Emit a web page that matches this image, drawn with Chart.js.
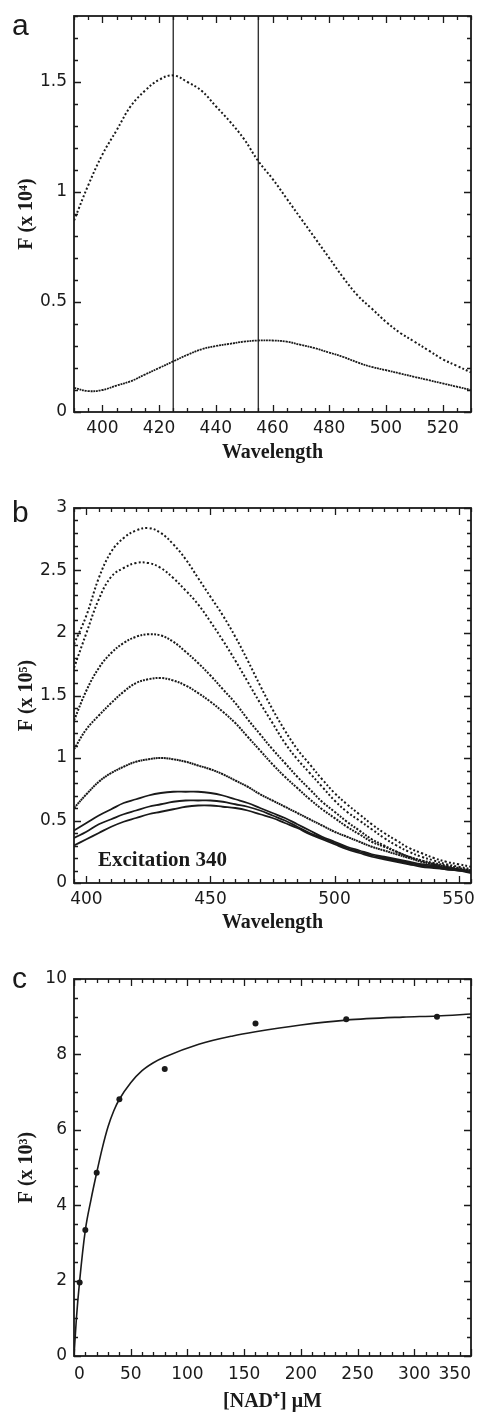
<!DOCTYPE html>
<html>
<head>
<meta charset="utf-8">
<script src="https://cdn.jsdelivr.net/npm/chart.js@4.4.0/dist/chart.umd.min.js"></script>
<style>
  body { margin: 0; background: #fff; width: 478px; height: 1412px; position: relative; overflow: hidden; }
  canvas { position: absolute; left: 0; }
  .lbl { position: absolute; line-height: 1; color: #1a1a1a; white-space: nowrap; }
  .panel { font-family: 'Liberation Sans', Arial, sans-serif; font-size: 30px; }
  .note { font-family: 'Liberation Serif', serif; font-weight: bold; font-size: 21px; }
</style>
</head>
<body>
<canvas id="chartA" width="478" height="470" style="top:0px"></canvas>
<canvas id="chartB" width="478" height="470" style="top:470px"></canvas>
<canvas id="chartC" width="478" height="472" style="top:940px"></canvas>
<div class="lbl panel" style="left:12px; top:10px;">a</div>
<div class="lbl panel" style="left:12px; top:497px;">b</div>
<div class="lbl panel" style="left:12px; top:963px;">c</div>
<div class="lbl note" style="left:98px; top:849px;">Excitation 340</div>

<script>
// ---- panel a: emission spectra (F x 10^4) ----
const wlA = [390, 395, 400, 405, 410, 415, 420, 425, 430, 435, 440, 445, 450, 455, 460,
             465, 470, 475, 480, 485, 490, 495, 500, 505, 510, 515, 520, 525, 530];
const fA_high = [0.87, 1.03, 1.17, 1.28, 1.39, 1.46, 1.51, 1.53, 1.50, 1.46, 1.39, 1.32, 1.24, 1.14, 1.06,
                 0.97, 0.88, 0.79, 0.70, 0.61, 0.53, 0.47, 0.41, 0.36, 0.32, 0.28, 0.24, 0.21, 0.18];
const fA_low = [0.11, 0.095, 0.10, 0.12, 0.14, 0.17, 0.20, 0.23, 0.26, 0.285, 0.30, 0.31, 0.32, 0.325, 0.325,
                0.32, 0.305, 0.29, 0.27, 0.25, 0.225, 0.205, 0.19, 0.175, 0.16, 0.145, 0.13, 0.115, 0.10];
const markerWl = [425, 455];
const xTicksA = [400, 420, 440, 460, 480, 500, 520];
const yTicksA = [0, 0.5, 1, 1.5];

// ---- panel b: titration spectra (F x 10^5) ----
const wlB = [395, 400, 405, 410, 415, 420, 425, 430, 435, 440, 445, 450, 455, 460, 465, 470, 475,
             480, 485, 490, 495, 500, 505, 510, 515, 520, 525, 530, 535, 540, 545, 550, 555];
const fB1 = [1.91, 2.14, 2.44, 2.65, 2.76, 2.82, 2.84, 2.80, 2.71, 2.59, 2.44, 2.29, 2.14, 1.97, 1.78, 1.58, 1.39,
             1.22, 1.07, 0.95, 0.83, 0.72, 0.63, 0.55, 0.47, 0.40, 0.34, 0.28, 0.24, 0.20, 0.17, 0.15, 0.13];
const fB2 = [1.72, 2.00, 2.27, 2.45, 2.52, 2.56, 2.56, 2.52, 2.44, 2.34, 2.23, 2.09, 1.94, 1.78, 1.61, 1.44, 1.28,
             1.12, 0.99, 0.88, 0.77, 0.66, 0.57, 0.50, 0.43, 0.36, 0.30, 0.25, 0.21, 0.18, 0.15, 0.13, 0.11];
const fB3 = [1.30, 1.54, 1.72, 1.84, 1.92, 1.97, 1.99, 1.98, 1.93, 1.85, 1.76, 1.66, 1.55, 1.44, 1.31, 1.19, 1.07,
             0.96, 0.85, 0.75, 0.65, 0.57, 0.49, 0.42, 0.35, 0.30, 0.25, 0.21, 0.18, 0.16, 0.14, 0.12, 0.10];
const fB4 = [1.07, 1.23, 1.34, 1.44, 1.53, 1.60, 1.63, 1.64, 1.62, 1.58, 1.52, 1.45, 1.37, 1.28, 1.17, 1.06, 0.95,
             0.85, 0.76, 0.67, 0.59, 0.52, 0.45, 0.39, 0.33, 0.29, 0.25, 0.21, 0.18, 0.15, 0.13, 0.11, 0.10];
const fB5 = [0.60, 0.71, 0.81, 0.88, 0.93, 0.97, 0.99, 1.00, 0.99, 0.97, 0.94, 0.91, 0.87, 0.82, 0.77, 0.71, 0.66,
             0.61, 0.56, 0.51, 0.46, 0.41, 0.37, 0.33, 0.29, 0.26, 0.23, 0.20, 0.17, 0.15, 0.13, 0.11, 0.10];
const fB6 = [0.42, 0.48, 0.54, 0.59, 0.64, 0.67, 0.70, 0.72, 0.73, 0.73, 0.73, 0.72, 0.70, 0.67, 0.64, 0.60, 0.56,
             0.52, 0.47, 0.42, 0.37, 0.33, 0.29, 0.26, 0.23, 0.21, 0.19, 0.17, 0.15, 0.14, 0.12, 0.11, 0.09];
const fB7 = [0.36, 0.41, 0.47, 0.51, 0.55, 0.58, 0.61, 0.63, 0.65, 0.66, 0.66, 0.66, 0.65, 0.63, 0.61, 0.58, 0.54,
             0.50, 0.45, 0.40, 0.36, 0.32, 0.28, 0.25, 0.22, 0.20, 0.18, 0.16, 0.14, 0.13, 0.11, 0.10, 0.09];
const fB8 = [0.30, 0.35, 0.40, 0.45, 0.49, 0.52, 0.55, 0.57, 0.59, 0.61, 0.62, 0.62, 0.61, 0.60, 0.58, 0.55, 0.52,
             0.48, 0.44, 0.39, 0.35, 0.31, 0.27, 0.24, 0.21, 0.19, 0.17, 0.15, 0.13, 0.12, 0.11, 0.10, 0.08];
const xTicksB = [400, 450, 500, 550];
const yTicksB = [0, 0.5, 1, 1.5, 2, 2.5, 3];

// ---- panel c: binding curve (F x 10^3) ----
const nadConc = [5, 10, 20, 40, 80, 160, 240, 320];
const fC = [1.95, 3.34, 4.86, 6.81, 7.61, 8.82, 8.93, 9.00];
const fitX = [0, 2, 5, 10, 15, 20, 25, 30, 35, 40, 50, 60, 70, 80, 110, 140, 160, 200, 240, 290, 320, 350];
const fitY = [0, 0.95, 2.0, 3.34, 4.15, 4.86, 5.52, 6.08, 6.5, 6.81, 7.25, 7.57, 7.78, 7.93, 8.27, 8.49, 8.6, 8.78, 8.91, 8.99, 9.02, 9.07];
const xTicksC = [0, 50, 100, 150, 200, 250, 300, 350];
const yTicksC = [0, 2, 4, 6, 8, 10];

const INK = '#1a1a1a';
const tickFont = { family: "'DejaVu Sans', sans-serif", size: 17 };
const titleFont = { family: "'Liberation Serif', serif", size: 20, weight: 'bold', lineHeight: 1 };

function pts(xs, ys) {
    return xs.map((x, i) => ({ x: x, y: ys[i] }));
}

// frame round the plot plus inward ticks on all four sides
const frameTicks = {
    id: 'frameTicks',
    afterDatasetsDraw(chart, args, opts) {
        const { ctx, chartArea: a, scales: { x, y } } = chart;
        ctx.save();
        ctx.strokeStyle = INK;
        ctx.lineWidth = 1.3;
        ctx.beginPath();
        function marks(scale, step, len, horiz) {
            const start = Math.ceil(scale.min / step - 1e-9);
            for (let i = start; i * step <= scale.max + 1e-9; i++) {
                const p = Math.round(scale.getPixelForValue(i * step)) + 0.5;
                if (horiz) {
                    ctx.moveTo(p, a.bottom); ctx.lineTo(p, a.bottom - len);
                    ctx.moveTo(p, a.top); ctx.lineTo(p, a.top + len);
                } else {
                    ctx.moveTo(a.left, p); ctx.lineTo(a.left + len, p);
                    ctx.moveTo(a.right, p); ctx.lineTo(a.right - len, p);
                }
            }
        }
        marks(x, opts.xMinor, 4, true);
        marks(x, opts.xMajor, 7, true);
        marks(y, opts.yMinor, 4, false);
        marks(y, opts.yMajor, 7, false);
        ctx.stroke();
        ctx.lineWidth = 1.8;
        ctx.strokeRect(a.left, a.top, a.width, a.height);
        ctx.restore();
    }
};

function makeChart(canvasId, cfg) {
    const ctx = document.getElementById(canvasId);
    return new Chart(ctx, {
        type: 'scatter',
        data: { datasets: cfg.datasets },
        options: {
            responsive: false,
            animation: false,
            events: [],
            layout: { padding: { top: cfg.plotTop, right: 7, left: 0, bottom: 0 } },
            plugins: {
                legend: { display: false },
                tooltip: { enabled: false },
                frameTicks: cfg.marks
            },
            scales: {
                x: {
                    type: 'linear',
                    min: cfg.xMin,
                    max: cfg.xMax,
                    grid: { display: false, drawTicks: false },
                    border: { display: false },
                    afterBuildTicks: s => { s.ticks = cfg.xTicks.map(v => ({ value: v })); },
                    afterFit: s => { s.height = cfg.xAxisH; s.paddingLeft = 0; s.paddingRight = 0; },
                    ticks: {
                        callback: v => String(v),
                        font: tickFont, color: INK, padding: cfg.xTickPad,
                        maxRotation: 0, autoSkip: false, align: cfg.xAlign || 'center'
                    },
                    title: { display: true, text: cfg.xTitle, font: titleFont, color: INK,
                             padding: { top: 0, bottom: cfg.xTitlePad } }
                },
                y: {
                    type: 'linear',
                    min: cfg.yMin,
                    max: cfg.yMax,
                    grid: { display: false, drawTicks: false },
                    border: { display: false },
                    afterBuildTicks: s => { s.ticks = cfg.yTicks.map(v => ({ value: v })); },
                    afterFit: s => { s.width = 74; s.paddingTop = 0; s.paddingBottom = 0; },
                    ticks: { callback: v => String(v), font: tickFont, color: INK, padding: 7, autoSkip: false },
                    title: { display: true, text: cfg.yTitle, font: titleFont, color: INK,
                             padding: { top: 17, bottom: 0 } }
                }
            }
        },
        plugins: [frameTicks]
    });
}

// smooth spectra use bezier tension, the fitted curve uses monotone
function trace(xs, ys, dash, width, monotone) {
    const ds = {
        data: pts(xs, ys),
        showLine: true,
        pointRadius: 0,
        borderColor: INK,
        borderWidth: width,
        borderDash: dash
    };
    if (monotone) ds.cubicInterpolationMode = 'monotone';
    else ds.tension = 0.4;
    return ds;
}

// panel a
const markerSets = markerWl.map(w => ({
    data: [{ x: w, y: 0 }, { x: w, y: 1.8 }],
    showLine: true, pointRadius: 0, borderColor: '#333', borderWidth: 1.4
}));
makeChart('chartA', {
    datasets: [trace(wlA, fA_high, [2, 2.2], 2), trace(wlA, fA_low, [2, 0.8], 1.8)].concat(markerSets),
    plotTop: 16, xAxisH: 58, xTickPad: 6, xTitlePad: 7,
    xMin: 390, xMax: 530, yMin: 0, yMax: 1.8,
    xTicks: xTicksA, yTicks: yTicksA,
    xTitle: 'Wavelength', yTitle: 'F (x 10\u2074)',
    marks: { xMinor: 5, xMajor: 20, yMinor: 0.1, yMajor: 0.5 }
});

// panel b
makeChart('chartB', {
    datasets: [
        trace(wlB, fB1, [2, 2.2], 2),
        trace(wlB, fB2, [2, 2.2], 2),
        trace(wlB, fB3, [2, 1.5], 2),
        trace(wlB, fB4, [2, 1.2], 2),
        trace(wlB, fB5, [2, 0.6], 2),
        trace(wlB, fB6, [], 1.8),
        trace(wlB, fB7, [], 1.8),
        trace(wlB, fB8, [], 1.8)
    ],
    plotTop: 38, xAxisH: 57, xTickPad: 6, xTitlePad: 7,
    xMin: 395, xMax: 555, yMin: 0, yMax: 3,
    xTicks: xTicksB, yTicks: yTicksB,
    xTitle: 'Wavelength', yTitle: 'F (x 10\u2075)',
    marks: { xMinor: 5, xMajor: 50, yMinor: 0.1, yMajor: 0.5 }
});

// panel c
makeChart('chartC', {
    datasets: [
        trace(fitX, fitY, [], 1.6, true),
        { data: pts(nadConc, fC), pointRadius: 3, pointBackgroundColor: INK, pointBorderWidth: 0 }
    ],
    plotTop: 39, xAxisH: 56, xTickPad: 8, xTitlePad: 0, xAlign: 'inner',
    xMin: 0, xMax: 350, yMin: 0, yMax: 10,
    xTicks: xTicksC, yTicks: yTicksC,
    xTitle: '[NAD\u207A] \u03BCM', yTitle: 'F (x 10\u00B3)',
    marks: { xMinor: 10, xMajor: 50, yMinor: 0.5, yMajor: 2 }
});
</script>
</body>
</html>
